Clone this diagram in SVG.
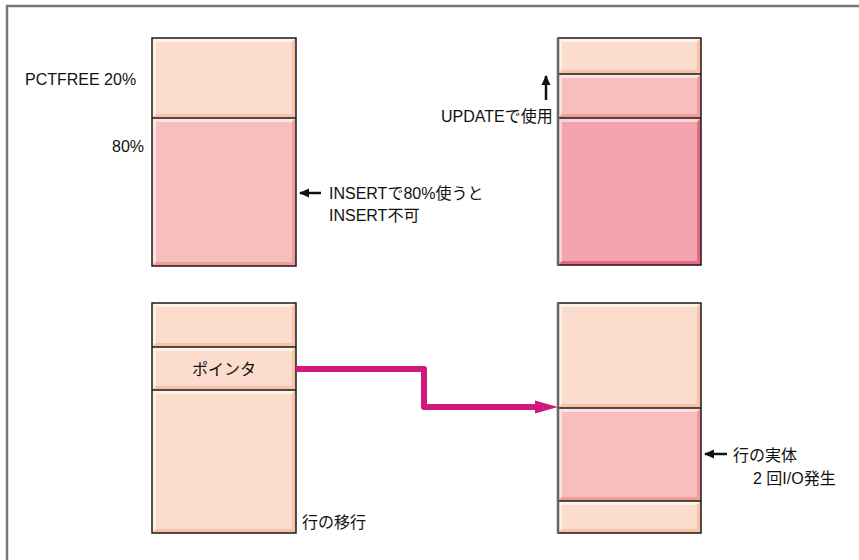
<svg xmlns="http://www.w3.org/2000/svg" width="859" height="560" viewBox="0 0 859 560">
<style>
.t{font-family:"Liberation Sans","Noto Sans CJK JP",sans-serif;font-size:16px;fill:#111}
.pf{fill:#FCDCCC}.ph{fill:#FEF1E8}.ps{fill:#F8C2A8}
.kf{fill:#F8BEBE}.kh{fill:#FCE2E2}.ks{fill:#F19B9B}
.df{fill:#F5A3AE}.dh{fill:#FAD2D8}.ds{fill:#E8687F}
.bd{fill:none;stroke:#1a1a1a;stroke-width:1.5}
.dv{stroke:#1a1a1a;stroke-width:1.5}
.lg{stroke:#666;stroke-width:2.5}
.ar{stroke:#111;stroke-width:2.5;fill:none}
</style>
<defs>
<marker id="ah" viewBox="0 0 10 10" refX="9" refY="5" markerWidth="4" markerHeight="4" orient="auto-start-reverse"><path d="M0,0.5 L10,5 L0,9.5 Z" fill="#111"/></marker>
</defs>
<g id="frame"><path d="M7,560 V6 H859" fill="none" stroke="#777" stroke-width="2.5"/></g>

<g id="block-tl">
<rect class="pf" x="152" y="38" width="144" height="80"/>
<polygon class="ph" points="152,38 296,38 292,42 156,42 156,114 152,118"/>
<polygon class="ps" points="296,38 296,118 152,118 156,114 292,114 292,42"/>
<rect class="kf" x="152" y="118" width="144" height="148"/>
<polygon class="kh" points="152,118 296,118 292,122 156,122 156,262 152,266"/>
<polygon class="ks" points="296,118 296,266 152,266 156,262 292,262 292,122"/>
<rect class="bd" x="152" y="38" width="144" height="228"/>
<line class="dv" x1="152" y1="118" x2="296" y2="118"/>
</g>

<g id="block-tr">
<rect class="pf" x="558" y="38" width="143" height="36"/>
<polygon class="ph" points="558,38 701,38 697,42 562,42 562,70 558,74"/>
<polygon class="ps" points="701,38 701,74 558,74 562,70 697,70 697,42"/>
<rect class="kf" x="558" y="74" width="143" height="44"/>
<polygon class="kh" points="558,74 701,74 697,78 562,78 562,114 558,118"/>
<polygon class="ks" points="701,74 701,118 558,118 562,114 697,114 697,78"/>
<rect class="df" x="558" y="118" width="143" height="147"/>
<polygon class="dh" points="558,118 701,118 697,122 562,122 562,261 558,265"/>
<polygon class="ds" points="701,118 701,265 558,265 562,261 697,261 697,122"/>
<rect class="bd" x="558" y="38" width="143" height="227"/>
<line class="dv" x1="558" y1="74" x2="701" y2="74"/>
<line class="dv" x1="558" y1="118" x2="701" y2="118"/>
<line class="lg" x1="558" y1="38" x2="558" y2="265"/>
</g>

<g id="block-bl">
<rect class="pf" x="152" y="303" width="144" height="44"/>
<polygon class="ph" points="152,303 296,303 292,307 156,307 156,343 152,347"/>
<polygon class="ps" points="296,303 296,347 152,347 156,343 292,343 292,307"/>
<rect class="pf" x="152" y="347" width="144" height="43"/>
<polygon class="ph" points="152,347 296,347 292,351 156,351 156,386 152,390"/>
<polygon class="ps" points="296,347 296,390 152,390 156,386 292,386 292,351"/>
<rect class="pf" x="152" y="390" width="144" height="143"/>
<polygon class="ph" points="152,390 296,390 292,394 156,394 156,529 152,533"/>
<polygon class="ps" points="296,390 296,533 152,533 156,529 292,529 292,394"/>
<rect class="bd" x="152" y="303" width="144" height="230"/>
<line class="dv" x1="152" y1="347" x2="296" y2="347"/>
<line class="dv" x1="152" y1="390" x2="296" y2="390"/>
<text class="t" x="224" y="375" text-anchor="middle">ポインタ</text>
</g>

<g id="block-br">
<rect class="pf" x="558" y="303" width="143" height="105"/>
<polygon class="ph" points="558,303 701,303 697,307 562,307 562,404 558,408"/>
<polygon class="ps" points="701,303 701,408 558,408 562,404 697,404 697,307"/>
<rect class="kf" x="558" y="408" width="143" height="93"/>
<polygon class="kh" points="558,408 701,408 697,412 562,412 562,497 558,501"/>
<polygon class="ks" points="701,408 701,501 558,501 562,497 697,497 697,412"/>
<rect class="pf" x="558" y="501" width="143" height="32"/>
<polygon class="ph" points="558,501 701,501 697,505 562,505 562,529 558,533"/>
<polygon class="ps" points="701,501 701,533 558,533 562,529 697,529 697,505"/>
<rect class="bd" x="558" y="303" width="143" height="230"/>
<line class="dv" x1="558" y1="408" x2="701" y2="408"/>
<line class="dv" x1="558" y1="501" x2="701" y2="501"/>
<line class="lg" x1="558" y1="303" x2="558" y2="533"/>
</g>

<g id="connectors">
<path d="M296,369 H424 V407 H538" fill="none" stroke="#D0197A" stroke-width="6" stroke-linejoin="round"/>
<polygon points="535,400.5 558,407 535,413.5" fill="#D0197A"/>
<line class="ar" x1="321" y1="193" x2="300" y2="193" marker-end="url(#ah)"/>
<line class="ar" x1="546" y1="100" x2="546" y2="76" marker-end="url(#ah)"/>
<line class="ar" x1="727" y1="454" x2="705" y2="454" marker-end="url(#ah)"/>
</g>

<g id="labels">
<text class="t" x="25" y="85">PCTFREE 20%</text>
<text class="t" x="112" y="152">80%</text>
<text class="t" x="329" y="199">INSERTで80%使うと</text>
<text class="t" x="329" y="221">INSERT不可</text>
<text class="t" x="441" y="122">UPDATEで使用</text>
<text class="t" x="733" y="461">行の実体</text>
<text class="t" x="753" y="484">2 回I/O発生</text>
<text class="t" x="302" y="528">行の移行</text>
</g>
</svg>
